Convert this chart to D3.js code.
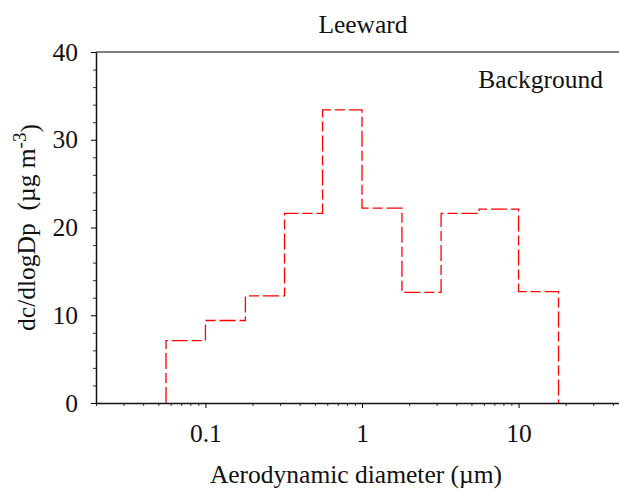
<!DOCTYPE html>
<html>
<head>
<meta charset="utf-8">
<script src="https://cdn.jsdelivr.net/npm/d3@7"></script>
<style>
  body { margin: 0; background: #fff; }
  text { font-family: "Liberation Serif", "Times New Roman", serif; fill: #111; }
</style>
</head>
<body>
<div class="chart"></div>
<script>
// bin edges (µm) and concentration per bin
const binEdges = [0.056, 0.1, 0.18, 0.32, 0.56, 1.0, 1.8, 3.2, 5.6, 10, 18];
const binValues = [7.1, 9.4, 12.2, 21.6, 33.4, 22.2, 12.6, 21.6, 22.1, 12.7];
const xMajorTicks = [0.1, 1, 10];
const yMajorTicks = [0, 10, 20, 30, 40];

const width = 619, height = 490;
const margin = {top: 52, left: 96, bottom: 87};
const plotRight = 628;
const fs = '25.5px';

const svg = d3.select('.chart').append('svg')
  .attr('width', width)
  .attr('height', height);

const xScale = d3.scaleLog()
  .domain([0.02, 50])
  .range([margin.left, plotRight]);

const yScale = d3.scaleLinear()
  .domain([0, 40])
  .range([height - margin.bottom, margin.top]);

// top border
svg.append('line')
  .attr('x1', margin.left).attr('x2', plotRight)
  .attr('y1', yScale(40)).attr('y2', yScale(40))
  .attr('stroke', '#555').attr('stroke-width', 1.5);

// x axis: minor ticks then major
const xMinor = xScale.ticks().filter(d => !xMajorTicks.includes(+d.toPrecision(3)));
svg.append('g')
  .attr('transform', `translate(0, ${yScale(0)})`)
  .call(d3.axisBottom(xScale).tickValues(xMinor).tickSize(3).tickFormat(''))
  .call(g => g.select('.domain').remove())
  .call(g => g.selectAll('line').attr('stroke', '#333'));

const xAxis = svg.append('g')
  .attr('transform', `translate(0, ${yScale(0)})`)
  .call(d3.axisBottom(xScale).tickValues(xMajorTicks).tickSize(5).tickSizeOuter(0)
    .tickFormat(d => d3.format('~g')(d)).tickPadding(16));
xAxis.select('.domain').attr('stroke', '#111').attr('stroke-width', 1.5);
xAxis.selectAll('text').style('font-size', fs);

// y axis
svg.append('g')
  .attr('transform', `translate(${margin.left}, 0)`)
  .call(d3.axisLeft(yScale).tickValues(d3.range(0, 41, 2).filter(d => d % 10)).tickSize(3).tickFormat(''))
  .call(g => g.select('.domain').remove())
  .call(g => g.selectAll('line').attr('stroke', '#333'));

const yAxis = svg.append('g')
  .attr('transform', `translate(${margin.left}, 0)`)
  .call(d3.axisLeft(yScale).tickValues(yMajorTicks).tickSize(5).tickSizeOuter(0).tickPadding(13));
yAxis.select('.domain').attr('stroke', '#111').attr('stroke-width', 1.5);
yAxis.selectAll('text').style('font-size', fs).attr('dy', '0.32em');

// step outline of the size distribution
const pts = [[binEdges[0], 0]];
binValues.forEach((v, i) => pts.push([binEdges[i], v]));
pts.push([binEdges[binEdges.length - 1], binValues[binValues.length - 1]]);
pts.push([binEdges[binEdges.length - 1], 0]);

const line = d3.line()
  .x(d => xScale(d[0]))
  .y(d => yScale(d[1]))
  .curve(d3.curveStepAfter);

svg.append('path')
  .datum(pts)
  .attr('d', line)
  .attr('fill', 'none')
  .attr('stroke', '#ff0000')
  .attr('stroke-width', 1.3)
  .attr('stroke-dasharray', '16,4,10,4');

// labels
svg.append('text')
  .attr('x', 363).attr('y', 33)
  .attr('text-anchor', 'middle')
  .style('font-size', fs)
  .text('Leeward');

svg.append('text')
  .attr('x', 603).attr('y', 88)
  .attr('text-anchor', 'end')
  .style('font-size', fs)
  .text('Background');

svg.append('text')
  .attr('x', 356).attr('y', 483)
  .attr('text-anchor', 'middle')
  .style('font-size', fs)
  .text('Aerodynamic diameter (µm)');

const yLabel = svg.append('text')
  .attr('transform', `translate(35, ${(yScale(0) + yScale(40)) / 2}) rotate(-90)`)
  .attr('text-anchor', 'middle')
  .style('font-size', fs);
yLabel.append('tspan').text('dc/dlogDp\u00a0\u00a0(µg m');
yLabel.append('tspan').attr('dy', '-0.45em').style('font-size', '19px').text('-3');
yLabel.append('tspan').attr('dy', '0.45em').text(')');
</script>
</body>
</html>
